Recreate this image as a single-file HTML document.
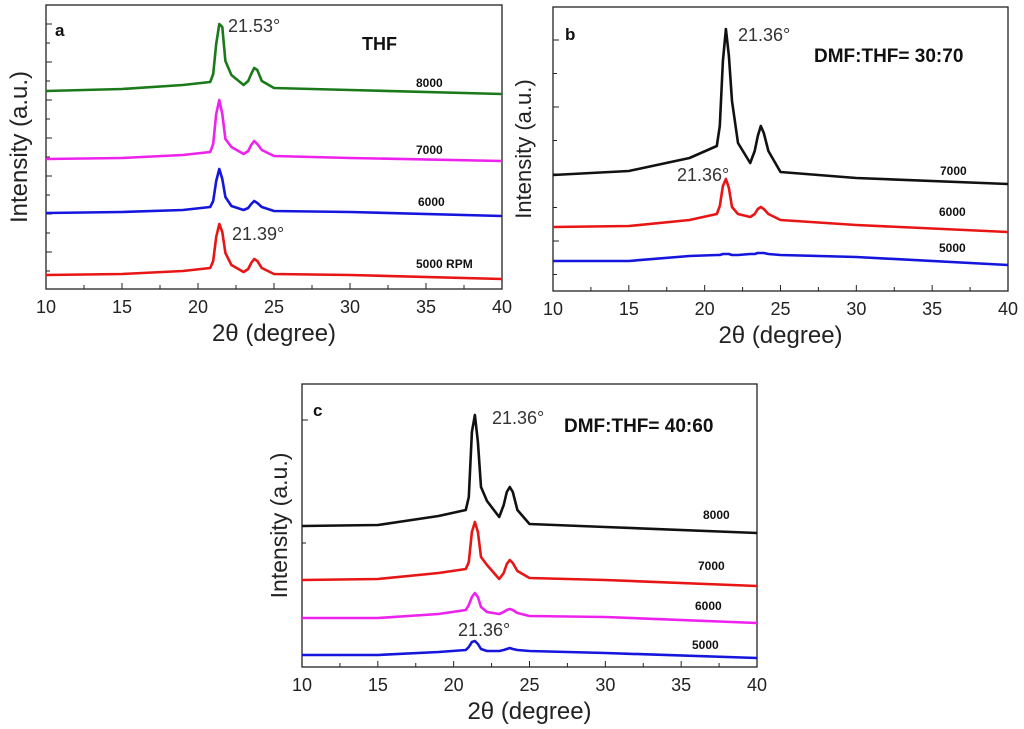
<!DOCTYPE html>
<html><head><meta charset="utf-8"><style>
html,body{margin:0;padding:0;background:#fff}
svg{display:block}
text{font-family:"Liberation Sans",sans-serif}
</style></head><body>
<svg id="fig" width="1024" height="729" viewBox="0 0 1024 729"></svg>
<script>
// ---- data (intensity in arbitrary units) ----
const xsA = [10,15,19,20.8,21.0,21.2,21.4,21.6,21.8,22.2,23,23.3,23.5,23.7,23.9,24.2,25,30,40];
const a8000 = [198,200,204,207,215,245,265,262,228,214,204,208,215,221,219,208,201,199,195];
const a7000 = [130,131,134,137,145,175,189,175,150,142,135,138,144,148,145,139,133,131,128];
const a6000 = [76,77,79,82,88,108,120,110,92,83,79,81,85,88,86,82,78,77,73];
const a5000 = [14,15,18,21,28,52,65,57,36,24,17,20,26,30,28,21,15,14,10];
const xsB = xsA;
const b7000 = [116,120,133,145,165,230,262,235,190,148,128,140,155,165,158,140,119,113,107];
const b6000 = [64,65,71,77,85,105,112,103,84,77,74,77,82,84,82,77,71,66,59];
const b5000 = [30,30,35,36,36,37,37,37,36,36,37,37,38,38,38,37,36,34,26];
const xsC = xsA;
const c8000 = [141,142,151,157,170,235,252,225,180,166,150,162,175,180,175,157,143,140,134];
const c7000 = [87,88,94,98,105,135,145,135,110,102,88,94,103,107,104,96,89,87,81];
const c6000 = [49,49,53,57,62,70,74,70,60,55,53,55,57,58,57,54,51,50,44];
const c5000 = [12,12,15,17,20,25,26,23,18,16,16,17,18,19,18,17,16,14,9];
const xTicks = [10,15,20,25,30,35,40];

const NS="http://www.w3.org/2000/svg";
const svg=document.getElementById('fig');
function mk(tag,attrs,parent){const e=document.createElementNS(NS,tag);for(const k in attrs)e.setAttribute(k,attrs[k]);(parent||svg).appendChild(e);return e;}
function txt(s,x,y,size,opts,parent){const t=mk('text',Object.assign({x:x,y:y,'font-size':size,fill:'#111'},opts||{}),parent);t.textContent=s;return t;}

function panel(p){
  const g=mk('g',{});
  
  
  const W=p.r-p.l,H=p.b-p.t;
  const sx=v=>p.l+(v-10)/30*W;
  const sy=v=>p.b-v/(p.ymax)*H;
  const frame=mk('rect',{x:p.l,y:p.t,width:W,height:H,fill:'none',stroke:'#222','stroke-width':1.3},g);
  
  
  for(let v=10;v<=40;v+=2.5){
    const len=(v%5===0)?6:4;
    mk('line',{x1:sx(v),x2:sx(v),y1:p.b,y2:p.b-len,stroke:'#222','stroke-width':1},g);
  }
  xTicks.forEach(v=>{
    const t=txt(String(v),sx(v),p.b+24,18,{'text-anchor':'middle',fill:'#222'},g);
    
    
  });
  for(let y=p.ty0;y<p.b-2;y+=p.tstep/2){
    const major=Math.round((y-p.ty0)/(p.tstep/2))%2===0;
    mk('line',{x1:p.l,x2:p.l+(major?6:4),y1:y,y2:y,stroke:'#222','stroke-width':1},g);
  }
  const xt=txt('2θ (degree)',(p.l+p.r)/2,p.b+52,24,{'text-anchor':'middle',fill:'#222'},g);
  
  
  const yt=txt('Intensity (a.u.)',0,0,p.yf,{'text-anchor':'middle',fill:'#222',transform:'translate('+p.ytx+','+((p.t+p.b)/2)+') rotate(-90)'},g);
  
  
  p.series.forEach(s=>{
    const d=p.xs.map((x,i)=>(i?'L':'M')+sx(x).toFixed(1)+','+sy(s.v[i]).toFixed(1)).join(' ');
    const path=mk('path',{d:d,fill:'none',stroke:s.c,'stroke-width':2.6,'stroke-linejoin':'round'},g);
    
    
  });
  p.labels.forEach(L=>{
    const t=txt(L.s,L.x,L.y,L.f,{'font-weight':L.b?'bold':'normal',fill:L.col||'#111'},g);
    
    
  });
}

panel({id:'a',l:46,r:502,t:5,b:289,ymax:284,xs:xsA,ty0:24,tstep:38,ytx:27,yf:24,
 series:[{n:'8000',c:'#1a7a1a',v:a8000},{n:'7000',c:'#ee22ee',v:a7000},{n:'6000',c:'#1515dd',v:a6000},{n:'5000',c:'#e81515',v:a5000}],
 labels:[{s:'a',x:55,y:36,f:17,b:1,name:'panel-letter'},{s:'21.53°',x:228,y:32,f:18,col:'#333',name:'peak-label-top'},
 {s:'THF',x:362,y:50,f:18,b:1,name:'solvent-label'},{s:'8000',x:416,y:87,f:12,b:1,name:'label-8000'},
 {s:'7000',x:416,y:154,f:12,b:1,name:'label-7000'},{s:'6000',x:418,y:206,f:12,b:1,name:'label-6000'},
 {s:'5000 RPM',x:416,y:268,f:12,b:1,name:'label-5000'},{s:'21.39°',x:232,y:240,f:18,col:'#333',name:'peak-label-bottom'}]});

panel({id:'b',l:553,r:1008,t:7,b:291,ymax:284,xs:xsB,ty0:40,tstep:67,ytx:531,yf:22,
 series:[{n:'7000',c:'#111',v:b7000},{n:'6000',c:'#e81515',v:b6000},{n:'5000',c:'#1515dd',v:b5000}],
 labels:[{s:'b',x:565,y:40,f:17,b:1,name:'panel-letter'},{s:'21.36°',x:738,y:41,f:18,col:'#333',name:'peak-label-top'},
 {s:'DMF:THF= 30:70',x:814,y:62,f:19,b:1,name:'solvent-label'},{s:'7000',x:940,y:175,f:12,b:1,name:'label-7000'},
 {s:'6000',x:939,y:216,f:12,b:1,name:'label-6000'},{s:'5000',x:939,y:252,f:12,b:1,name:'label-5000'},
 {s:'21.36°',x:677,y:181,f:18,col:'#333',name:'peak-label-bottom'}]});

panel({id:'c',l:302,r:757,t:384,b:667,ymax:283,xs:xsC,ty0:420,tstep:246,ytx:287,yf:23,
 series:[{n:'8000',c:'#111',v:c8000},{n:'7000',c:'#e81515',v:c7000},{n:'6000',c:'#ee22ee',v:c6000},{n:'5000',c:'#1515dd',v:c5000}],
 labels:[{s:'c',x:313,y:416,f:17,b:1,name:'panel-letter'},{s:'21.36°',x:492,y:424,f:18,col:'#333',name:'peak-label-top'},
 {s:'DMF:THF= 40:60',x:564,y:432,f:19,b:1,name:'solvent-label'},{s:'8000',x:703,y:519,f:12,b:1,name:'label-8000'},
 {s:'7000',x:698,y:570,f:12,b:1,name:'label-7000'},{s:'6000',x:695,y:610,f:12,b:1,name:'label-6000'},
 {s:'5000',x:692,y:649,f:12,b:1,name:'label-5000'},{s:'21.36°',x:458,y:636,f:18,col:'#333',name:'peak-label-bottom'}]});
</script>
</body></html>
